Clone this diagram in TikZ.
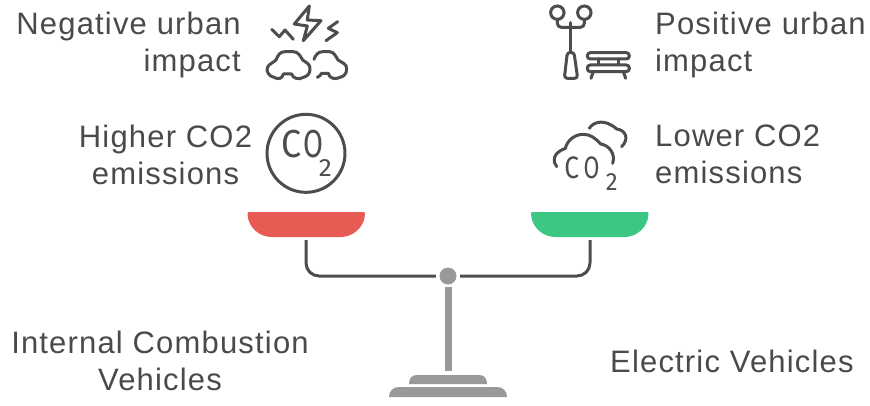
\documentclass[tikz,border=0pt]{standalone}
\usepackage{fontspec}
\setmainfont[LetterSpace=3.8]{Liberation Sans}
\newfontfamily\icofont{Fira Sans}
\definecolor{txt}{HTML}{4A4A4A}
\definecolor{ink}{HTML}{4D4D4D}
\definecolor{stand}{HTML}{999999}
\definecolor{panred}{HTML}{E85A54}
\definecolor{pangreen}{HTML}{3CC784}
\tikzset{
  label/.style={text=txt,inner sep=0pt,font=\fontsize{31}{37}\selectfont},
  icon/.style={draw=ink,line width=3pt,line cap=round,line join=round},
  arm/.style={draw=ink,line width=3pt,rounded corners=13pt},
  standfill/.style={fill=stand,draw=none},
  glyph/.style={text=ink,inner sep=0pt,font=\icofont\fontsize{39}{39}\selectfont},
  smallglyph/.style={text=ink,inner sep=0pt,font=\icofont\fontsize{31}{31}\selectfont},
  subglyph/.style={text=ink,inner sep=0pt,font=\icofont\fontsize{25}{25}\selectfont},
}
\begin{document}
\begin{tikzpicture}[x=1pt,y=-1pt]
\useasboundingbox (0,0) rectangle (870,405);
\fill[white] (0,0) rectangle (870,405);

% labels
\node[label,anchor=north east,align=right] (neg) at (241,12) {Negative urban\\impact};
\node[label,anchor=north,align=center] (high) at (165.5,125) {Higher CO2\\emissions};
\node[label,anchor=north west,align=left] (pos) at (655,12) {Positive urban\\impact};
\node[label,anchor=north west,align=left] (low) at (655,125) {Lower CO2\\emissions};
\node[label,anchor=north,align=center] (ice) at (160,331) {Internal Combustion\\Vehicles};
\node[label,anchor=west] (ev) at (610,361) {Electric Vehicles};

% pans
\fill[panred,rounded corners=1pt] (247.5,212) -- (365,212) -- (365,214) .. controls (364,228) and (352,237) .. (340,237) -- (272.5,237) .. controls (260,237) and (248.5,228) .. (247.5,214) -- cycle;
\fill[pangreen,rounded corners=1pt] (531,212) -- (648.5,212) -- (648.5,214) .. controls (647.5,228) and (636,237) .. (623.5,237) -- (556,237) .. controls (544,237) and (532,228) .. (531,214) -- cycle;

% scale
\node[circle,standfill,minimum size=17pt,inner sep=0pt] (pivot) at (448,276) {};
\coordinate (panL) at (306,240);
\coordinate (panR) at (590,240);
\coordinate (foot) at (448,371);
\draw[arm,shorten >=3.5pt] (panL) |- (pivot.west);
\draw[arm,shorten >=3.5pt] (panR) |- (pivot.east);
\draw[stand,line width=7pt,shorten <=2.5pt] (pivot.south) -- (foot);
\fill[stand] (409,384) .. controls (409,378) and (412,375) .. (417,375) -- (479,375) .. controls (484,375) and (487,378) .. (487,384) -- cycle;
\fill[stand] (389,397) .. controls (389,391) and (393,387) .. (399,387) -- (497,387) .. controls (503,387) and (507,391) .. (507,397) -- cycle;

% icon: lightning and cars
\begin{scope}[shift={(250,0)},x=0.3333pt,y=-0.3333pt]
\draw[icon] (178,18) -- (133,72) -- (172,78) -- (160,122) -- (213,62) -- (172,60) -- cycle;
\draw[icon] (65,88) -- (88,110) -- (105,90) -- (130,118);
\draw[icon] (263,65) -- (235,85) -- (262,98) -- (228,122);
\draw[icon] (72,232) .. controls (58,230) and (48,215) .. (52,203) .. controls (56,192) and (70,188) .. (78,180) .. controls (84,165) and (90,155) .. (105,155) -- (130,155) .. controls (145,155) and (152,170) .. (158,180) .. controls (168,188) and (182,192) .. (180,208) .. controls (180,222) and (170,230) .. (160,232);
\draw[icon] (72,232) .. controls (85,240) and (98,235) .. (100,222) -- (125,222) .. controls (128,236) and (148,240) .. (160,232);
\draw[icon] (192,178) .. controls (196,165) and (205,155) .. (218,155) -- (238,155) .. controls (252,155) and (258,170) .. (264,180) .. controls (276,188) and (292,192) .. (290,208) .. controls (290,222) and (280,230) .. (270,232);
\draw[icon] (270,232) .. controls (255,240) and (238,235) .. (235,220) -- (215,220) .. controls (212,225) and (208,230) .. (202,232);
\end{scope}

% icon: lamp and bench
\begin{scope}[shift={(530,0)},x=0.3333pt,y=-0.3333pt]
\draw[icon] (82,38) circle[radius=6.7pt];
\draw[icon] (163,38) circle[radius=6.7pt];
\draw[icon,rounded corners=4pt] (82,58) -- (82,82) -- (163,82) -- (163,58);
\draw[icon] (122,68) -- (122,155);
\draw[icon,rounded corners=3pt] (112,157) -- (132,157) -- (143,235) -- (103,235) -- cycle;
\draw[icon,rounded corners=3pt] (172,158) rectangle (298,177);
\draw[icon,rounded corners=3pt] (172,195) rectangle (298,215);
\draw[icon] (205,177) -- (205,195);
\draw[icon] (265,177) -- (265,195);
\draw[icon] (190,215) -- (183,235);
\draw[icon] (280,215) -- (287,235);
\end{scope}

% icon: CO2 in circle
\begin{scope}[shift={(250,105)},x=0.3333pt,y=-0.3333pt]
\draw[icon] (168,145) circle[radius=39pt];
\node[glyph,xscale=.92] (c1) at (125,118) {C};
\node[glyph,xscale=.74] (o1) at (190,116) {O};
\node[subglyph,xscale=1.05] (two1) at (226,190) {2};
\end{scope}

% icon: clouds with CO2
\begin{scope}[shift={(530,105)},x=0.3333pt,y=-0.3333pt]
\draw[icon] (80,185) .. controls (68,170) and (66,145) .. (106,130) .. controls (112,105) and (135,88) .. (160,88) .. controls (180,88) and (195,98) .. (212,117) .. controls (235,120) and (258,145) .. (248,175);
\draw[icon] (178,70) .. controls (190,50) and (225,40) .. (260,72) .. controls (285,75) and (300,100) .. (275,125);
\node[smallglyph,xscale=.85] (c2) at (125,188) {C};
\node[smallglyph,xscale=.74] (o2) at (185,188) {O};
\node[subglyph,xscale=.95] (two2) at (245,232) {2};
\end{scope}
\end{tikzpicture}
\end{document}
